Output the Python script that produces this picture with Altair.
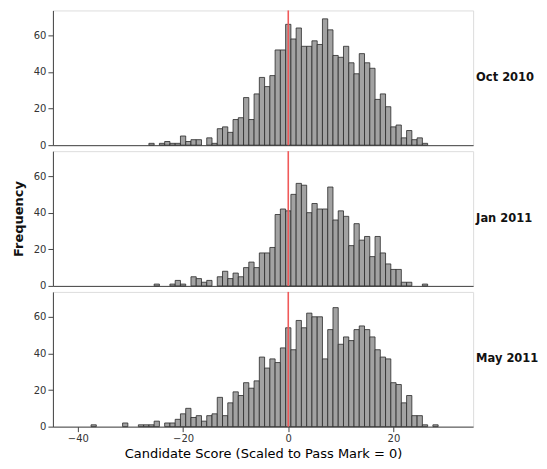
import altair as alt
import pandas as pd

# Scores (bin centres, width 1) and frequencies per exam session
oct_scores = list(range(-26, 27))
oct_counts = [1, 0, 1, 2, 1, 1, 5, 2, 3, 3, 0, 4, 1, 9, 10, 7, 14, 15, 26, 14, 28, 37, 32, 38, 52, 52,
              66, 58, 64, 54, 54, 57, 55, 69, 63, 49, 48, 54, 45, 39, 50, 45, 42, 25, 28, 21, 10, 11, 4, 8, 3, 4, 1]

jan_scores = list(range(-25, 27))
jan_counts = [1, 0, 0, 1, 3, 1, 0, 5, 4, 2, 3, 0, 5, 8, 4, 7, 5, 10, 13, 10, 18, 18, 21, 39, 42,
              41, 50, 56, 55, 40, 45, 42, 42, 54, 36, 41, 38, 22, 34, 25, 27, 16, 27, 18, 12, 9, 9, 2, 2, 0, 0, 1]

may_scores = list(range(-37, 29))
may_counts = [1, 0, 0, 0, 0, 0, 2, 0, 0, 1, 1, 1, 3, 0, 2, 2, 4, 7, 10, 5, 6, 3, 6, 7, 16, 6, 13, 19, 17,
              24, 21, 25, 38, 32, 37, 35, 43, 54, 42, 58, 54, 62, 60, 60, 37, 53, 65, 45, 49, 47, 53, 55,
              53, 49, 42, 38, 37, 24, 23, 13, 17, 6, 6, 1, 0, 1]

sessions = ["Oct 2010", "Jan 2011", "May 2011"]
series = [(oct_scores, oct_counts), (jan_scores, jan_counts), (may_scores, may_counts)]

pass_mark = 0
x_ticks = [-40, -20, 0, 20]
y_ticks = [0, 20, 40, 60]

W, H = 421, 135
FONT = "DejaVu Sans"
xscale = alt.Scale(domain=[-43.8, 34.2], nice=False, zero=False)
yscale = alt.Scale(domain=[0, 73.6], nice=False)

panels = []
for i, (label, (scores, counts)) in enumerate(zip(sessions, series)):
    df = pd.DataFrame({"score": scores, "count": counts})
    df = df[df["count"] > 0]
    df["lo"] = df["score"] - 0.5
    df["hi"] = df["score"] + 0.5
    df["base"] = 0
    last = i == len(sessions) - 1
    if last:
        xaxis = alt.Axis(values=x_ticks, title="Candidate Score (Scaled to Pass Mark = 0)",
                         grid=False, tickSize=5, labelFontSize=10, labelColor="#333",
                         titleFontSize=13, titleColor="#000", titleFontWeight="normal",
                         titlePadding=4, domainColor="#444", tickColor="#444", labelPadding=2)
    else:
        xaxis = alt.Axis(labels=False, ticks=False, title=None, grid=False, domainColor="#444")
    yaxis = alt.Axis(values=y_ticks, grid=False, tickSize=5, labelFontSize=10, labelColor="#333",
                     labelPadding=2, domainColor="#444", tickColor="#444",
                     title="Frequency" if i == 1 else None, titleFontSize=13, titleFontWeight="bold",
                     titleColor="#111", titlePadding=8)
    bars = alt.Chart(df).mark_bar(fill="#a2a2a2", stroke="#2a2a2a", strokeWidth=0.8,
                                  orient="vertical").encode(
        x=alt.X("lo:Q", scale=xscale, axis=xaxis),
        x2="hi:Q",
        y=alt.Y("count:Q", scale=yscale, axis=yaxis),
        y2="base:Q",
    )
    rule = alt.Chart(pd.DataFrame({"p": [pass_mark]})).mark_rule(color="#f05a5a", strokeWidth=1.6).encode(
        x=alt.X("p:Q", scale=xscale)
    )
    txt = alt.Chart(pd.DataFrame({"t": [label]})).mark_text(
        align="left", baseline="middle", font=FONT, fontSize=11.5, fontWeight="bold", color="#111"
    ).encode(x=alt.value(W + 3), y=alt.value(H / 2), text="t:N")
    panels.append(alt.layer(bars, rule, txt).properties(width=W, height=H))

chart = alt.vconcat(*panels, spacing=6, bounds="flush").properties(
    padding={"left": 3, "top": 0, "right": 0, "bottom": 0}
).configure_view(
    fill="#f2f2f2", stroke="#8a8a8a", strokeWidth=1.5
).configure(font=FONT)

chart.save("out.html", embed_options={"renderer": "svg", "actions": False})
